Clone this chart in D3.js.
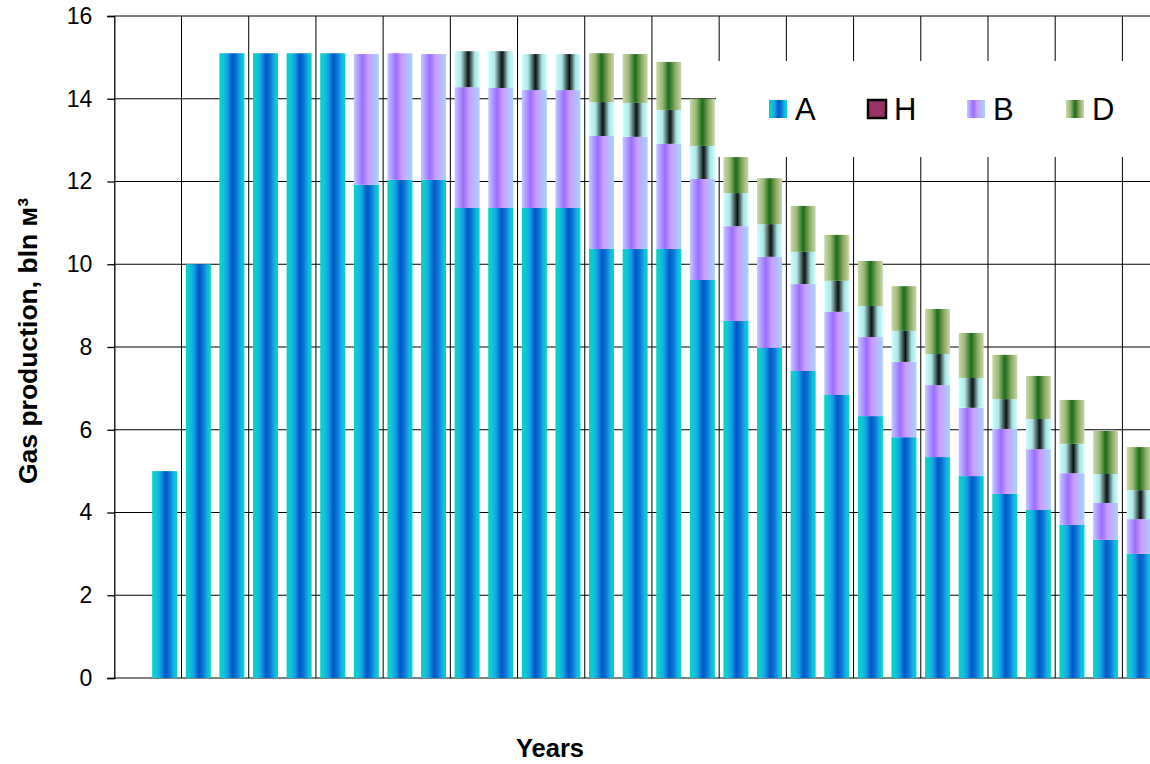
<!DOCTYPE html>
<html>
<head>
<meta charset="utf-8">
<script src="https://cdn.jsdelivr.net/npm/d3@7"></script>
<style>
  body { margin: 0; background: #fff; }
  svg { display: block; font-family: "Liberation Sans", Arial, sans-serif; }
</style>
</head>
<body>
<script>
// years on the x axis are not labelled, first slot is empty
var years = d3.range(0, 31);

// series values, bln m3
var seriesA = [0, 5.0, 10.0, 15.1, 15.1, 15.1, 15.1, 11.92, 12.04, 12.04, 11.36, 11.36, 11.36, 11.36,
  10.37, 10.37, 10.37, 9.62, 8.63, 7.98, 7.42, 6.84, 6.33, 5.82, 5.34, 4.88, 4.45, 4.06, 3.70, 3.34, 3.00];
var seriesB = [0, 0, 0, 0, 0, 0, 0, 3.16, 3.06, 3.04, 2.92, 2.90, 2.85, 2.85,
  2.73, 2.71, 2.54, 2.44, 2.29, 2.20, 2.10, 2.01, 1.91, 1.82, 1.74, 1.65, 1.57, 1.47, 1.25, 0.89, 0.84];
var seriesH = [0, 0, 0, 0, 0, 0, 0, 0, 0, 0, 0.87, 0.89, 0.87, 0.87,
  0.82, 0.82, 0.82, 0.80, 0.80, 0.79, 0.78, 0.75, 0.75, 0.75, 0.75, 0.72, 0.72, 0.73, 0.71, 0.70, 0.70];
var seriesD = [0, 0, 0, 0, 0, 0, 0, 0, 0, 0, 0, 0, 0, 0,
  1.18, 1.18, 1.16, 1.14, 0.87, 1.11, 1.11, 1.11, 1.09, 1.08, 1.09, 1.09, 1.07, 1.04, 1.06, 1.04, 1.04];

var yTicks = [0, 2, 4, 6, 8, 10, 12, 14, 16];
var legendNames = ["A", "H", "B", "D"];

var width = 1150, height = 764;
var plotLeft = 114.3, plotRight = 1156, plotTop = 16, plotBottom = 678;

var svg = d3.select("body").append("svg")
  .attr("width", width)
  .attr("height", height);

// gradients that give the bars their "cylinder" look
var grads = {
  A: [[0, "#00d6c0"], [0.15, "#14c6d8"], [0.32, "#12a4e6"], [0.52, "#0058c6"], [0.68, "#0a74d4"], [0.86, "#12b4e6"], [1, "#00d8c8"]],
  B: [[0, "#c2caff"], [0.35, "#9c6cff"], [0.58, "#c89eff"], [1, "#a8d2ff"]],
  H: [[0, "#ccffff"], [0.25, "#b0e6e6"], [0.5, "#243434"], [0.56, "#101414"], [0.8, "#a8e2e2"], [1, "#ccffff"]],
  D: [[0, "#cad9ac"], [0.25, "#9ab874"], [0.5, "#1a6c1a"], [0.75, "#8aa862"], [1, "#cad9ac"]]
};
var defs = svg.append("defs");
Object.keys(grads).forEach(function(k) {
  var g = defs.append("linearGradient")
    .attr("id", "grad" + k)
    .attr("x1", 0).attr("x2", 1).attr("y1", 0).attr("y2", 0);
  g.selectAll("stop")
    .data(grads[k])
    .enter()
    .append("stop")
    .attr("offset", function(d) { return d[0]; })
    .attr("stop-color", function(d) { return d[1]; });
});

var pad = 0.256;
var x = d3.scaleBand()
  .domain(years)
  .range([plotLeft, plotRight])
  .paddingInner(pad)
  .paddingOuter(pad / 2);

var y = d3.scaleLinear()
  .domain([0, 16])
  .range([plotBottom, plotTop]);

// horizontal gridlines
svg.append("g")
  .selectAll("line")
  .data(yTicks)
  .enter()
  .append("line")
  .attr("x1", plotLeft)
  .attr("x2", plotRight)
  .attr("y1", function(d) { return y(d); })
  .attr("y2", function(d) { return y(d); })
  .attr("stroke", function(d) { return d === 0 ? "#808080" : "#000"; })
  .attr("stroke-width", function(d) { return d === 0 ? 2 : 1; });

// vertical gridlines every two years
var vLines = years.filter(function(d) { return d > 0 && d % 2 === 0; });
svg.append("g")
  .selectAll("line")
  .data(vLines)
  .enter()
  .append("line")
  .attr("x1", function(d) { return x(d) - x.step() * pad / 2; })
  .attr("x2", function(d) { return x(d) - x.step() * pad / 2; })
  .attr("y1", plotTop)
  .attr("y2", plotBottom)
  .attr("stroke", "#000")
  .attr("stroke-width", 1);

// stacked bars, bottom to top: A, B, H, D
var rows = years.map(function(d, i) {
  return { year: d, A: seriesA[i], B: seriesB[i], H: seriesH[i], D: seriesD[i] };
});
var stack = d3.stack().keys(["A", "B", "H", "D"]);
var layers = stack(rows);

svg.append("g")
  .selectAll("g")
  .data(layers)
  .enter()
  .append("g")
  .attr("fill", function(d) { return "url(#grad" + d.key + ")"; })
  .selectAll("rect")
  .data(function(d) { return d.filter(function(s) { return s[1] - s[0] > 0; }); })
  .enter()
  .append("rect")
  .attr("x", function(d) { return x(d.data.year); })
  .attr("width", x.bandwidth())
  .attr("y", function(d) { return y(d[1]); })
  .attr("height", function(d) { return y(d[0]) - y(d[1]); });

// y axis
var yAxis = d3.axisLeft(y)
  .tickValues(yTicks)
  .tickSize(7)
  .tickPadding(15);
var gy = svg.append("g")
  .attr("transform", "translate(" + plotLeft + ",0)")
  .call(yAxis);
gy.select(".domain").attr("stroke", "#000").attr("stroke-width", 1.3);
gy.selectAll(".tick line").attr("stroke", "#000").attr("stroke-width", 1.3);
gy.selectAll(".tick text")
  .attr("font-size", "23px")
  .attr("font-family", "Liberation Sans, Arial, sans-serif")
  .attr("fill", "#000");

// axis titles
svg.append("text")
  .attr("transform", "translate(37,341) rotate(-90)")
  .attr("text-anchor", "middle")
  .attr("font-size", "26.5px")
  .attr("font-weight", "bold")
  .text("Gas production, bln м³");

svg.append("text")
  .attr("x", 550)
  .attr("y", 757)
  .attr("text-anchor", "middle")
  .attr("font-size", "25.5px")
  .attr("font-weight", "bold")
  .text("Years");

// legend box over the gridlines
var legend = svg.append("g");
legend.append("rect")
  .attr("x", 716)
  .attr("y", 61)
  .attr("width", 450)
  .attr("height", 96)
  .attr("fill", "#fff");

var items = legend.selectAll("g.item")
  .data(legendNames)
  .enter()
  .append("g")
  .attr("class", "item")
  .attr("transform", function(d, i) { return "translate(" + (769 + i * 99) + ",100)"; });

items.append("rect")
  .attr("width", 18)
  .attr("height", 18)
  .attr("fill", function(d) { return d === "H" ? "#993366" : "url(#grad" + d + ")"; })
  .attr("stroke", function(d) { return d === "H" ? "#000" : "none"; })
  .attr("stroke-width", 2.5);

items.append("text")
  .attr("x", 26)
  .attr("y", 19.5)
  .attr("font-size", "31px")
  .text(function(d) { return d; });
</script>
</body>
</html>
